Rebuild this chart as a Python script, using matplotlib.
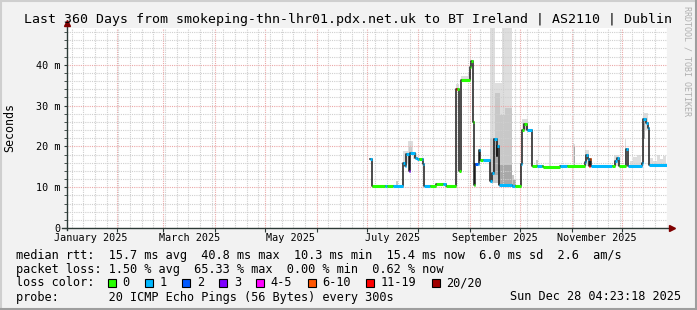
import matplotlib
matplotlib.use("Agg")
import matplotlib.pyplot as plt
import matplotlib.dates as mdates
from matplotlib.ticker import MultipleLocator, NullFormatter
from matplotlib.lines import Line2D
from matplotlib.patches import Rectangle
import pandas as pd

W, H = 697, 310
MONO = "DejaVu Sans Mono"

t_start = pd.Timestamp("2025-01-02 04:23:18")
t_end = pd.Timestamp("2025-12-28 04:23:18")
day0 = pd.Timestamp("2025-07-01")  # data days below are counted from here

# median rtt as steps: day the value starts, value in ms (last entry = end)
med_day = [2.0, 3.0, 21.6, 23.0, 23.8, 25.2, 26.0, 29.0, 30.4, 33.6, 34.6, 41.6, 47.6,
           53.8, 55.2, 56.4, 62.0, 62.6, 64.0, 64.6, 65.0, 67.6, 68.0, 74.0, 75.2, 76.4,
           78.0, 78.4, 79.6, 87.0, 92.4, 93.4, 94.4, 96.0, 99.4, 106.0, 116.0, 131.0,
           131.6, 132.5, 133.2, 134.0, 134.6, 149.0, 150.0, 151.6, 155.4, 156.6, 165.0,
           165.6, 167.6, 169.0, 169.6, 180.2]
med_ms = [17.0, 10.4, 15.9, 15.1, 18.1, 13.9, 18.4, 17.1, 16.8, 15.6, 10.3, 10.9, 10.4,
          34.0, 13.9, 36.2, 39.5, 40.8, 25.9, 10.6, 15.8, 19.2, 16.6, 11.4, 13.5, 21.8,
          17.6, 20.2, 10.6, 10.4, 15.8, 24.1, 25.6, 24.1, 15.3, 15.0, 15.2, 16.2,
          18.0, 16.8, 15.3, 16.8, 15.2, 16.3, 17.2, 15.3, 19.4, 15.3, 16.0,
          26.7, 25.8, 24.4, 15.4, 15.4]

# loss colour class as steps
loss_day = [2.0, 3.0, 11.0, 12.4, 16.0, 25.2, 26.0, 31.4, 33.0, 38.0, 46.0, 47.6, 53.8,
            54.4, 65.0, 67.0, 68.0, 69.6, 89.0, 92.4, 93.4, 96.0, 99.4, 102.0, 105.0,
            116.0, 120.2, 131.0, 133.2, 134.0, 134.6, 147.0, 149.0, 151.6, 155.4]
loss_cls = [1, 0, 1, 0, 1, 3, 1, 0, 1, 0, 1, 0, 6,
            0, 2, 1, 0, 1, 0, 1, 0, 1, 0, 1, 0,
            1, 0, 1, 6, 5, 1, 0, 1, 0, 1]

# smoke blocks: start day, end day, low ms, high ms, shade
smoke_d0 = [17.6, 21.6, 24.6, 25.6, 28.0, 53.8, 56.4, 61.0,
            74.0, 77.0, 81.0, 74.0, 77.0, 80.0, 83.0, 87.0, 76.0, 79.0, 87.6,
            93.2, 94.0, 109.6, 101.8, 124.0, 124.1,
            130.7, 148.6, 154.8, 158.0, 159.8, 162.2, 165.6, 166.0, 170.0, 171.8, 174.2,
            176.0, 177.8]
smoke_d1 = [18.6, 24.6, 28.0, 27.4, 30.4, 55.2, 61.0, 62.0,
            77.0, 81.0, 87.0, 77.0, 80.0, 83.0, 87.0, 88.6, 79.0, 87.0, 89.6,
            96.8, 95.6, 110.3, 102.6, 125.0, 124.8,
            133.1, 151.2, 155.8, 159.8, 162.2, 164.6, 169.0, 167.0, 171.8, 174.2, 176.0,
            177.8, 179.6]
smoke_lo = [10.5, 15.9, 18.2, 18.2, 17.0, 33.6, 36.0, 36.0,
            11.0, 11.0, 10.5, 11.0, 11.0, 10.6, 10.6, 10.4, 13.0, 10.6, 10.4,
            24.0, 24.0, 15.3, 15.3, 15.3, 15.3,
            15.3, 15.3, 15.3, 15.3, 15.3, 15.3, 24.0, 21.7, 15.4, 15.4, 15.4,
            15.4, 15.4]
smoke_hi = [11.5, 18.8, 21.2, 19.8, 18.3, 35.2, 37.2, 38.0,
            60.0, 35.5, 60.0, 22.0, 33.0, 27.8, 29.5, 13.0, 22.0, 15.5, 11.8,
            26.8, 25.8, 25.2, 16.6, 20.6, 20.0,
            19.2, 17.8, 21.7, 16.5, 17.5, 18.0, 28.1, 26.5, 17.2, 16.4, 17.8,
            16.8, 17.6]
smoke_tone = [1, 0, 0, 1, 0, 0, 0, 0,
              0, 0, 0, 1, 1, 1, 1, 1, 2, 2, 2,
              0, 1, 0, 1, 0, 2,
              0, 0, 0, 0, 0, 0, 0, 2, 0, 0, 0,
              0, 0]

loss_colors = ["#26ff00", "#00b8ff", "#0059ff", "#7e00ff", "#ff00ff", "#ff5500", "#ff0000", "#a10000"]
loss_labels = ["0", "1", "2", "3", "4-5", "6-10", "11-19", "20/20"]
tones = ["#dedede", "#c8c8c8", "#a8a8a8"]

y_ticks = [0, 10, 20, 30, 40]
y_ticklabels = ["0", "10 m", "20 m", "30 m", "40 m"]
label_months = [1, 3, 5, 7, 9, 11]

rtt_stats = [15.7, 40.8, 10.3, 15.4, 6.0, 2.6]
loss_stats = [1.50, 65.33, 0.00, 0.62]

title = "Last 360 Days from smokeping-thn-lhr01.pdx.net.uk to BT Ireland | AS2110 | Dublin"

axis_c = "#2c3a36"
arrow_c = "#7f0000"

fig = plt.figure(figsize=(W / 100, H / 100), dpi=100, facecolor="#f2f2f2")
ax = fig.add_axes([67 / W, 1 - 228 / H, 600 / W, 200 / H], facecolor="white")
x0 = mdates.date2num(day0)

# smoke, lightest first
for d0, d1, lo, hi, tn in sorted(zip(smoke_d0, smoke_d1, smoke_lo, smoke_hi, smoke_tone),
                                 key=lambda r: r[4]):
    ax.fill_between([x0 + d0, x0 + d1], lo, hi, color=tones[tn], lw=0, zorder=1)

# median line (black) then loss coloured plateaus
xs = [x0 + d for d in med_day]
ax.plot(xs, med_ms, drawstyle="steps-post", color="#1a1a1a", lw=1.1, zorder=2)

bounds = sorted(set(med_day) | set(loss_day))
for a, b in zip(bounds[:-1], bounds[1:]):
    if a < med_day[0] or a >= med_day[-1]:
        continue
    v = [m for d, m in zip(med_day, med_ms) if d <= a][-1]
    c = [k for d, k in zip(loss_day, loss_cls) if d <= a][-1]
    ax.hlines(v, x0 + a, x0 + b, colors=loss_colors[c], lw=2.2, zorder=3)

ax.set_xlim(mdates.date2num(t_start), mdates.date2num(t_end))
ax.set_ylim(0, 49)

ax.xaxis.set_major_locator(mdates.MonthLocator())
ax.xaxis.set_minor_locator(mdates.WeekdayLocator(byweekday=mdates.SU))
ax.xaxis.set_major_formatter(NullFormatter())
ax.set_yticks(y_ticks, y_ticklabels)
ax.yaxis.set_minor_locator(MultipleLocator(2))
ax.set_axisbelow("line")
ax.grid(which="minor", color="#cfcfcf", ls=(0, (1, 1)), lw=0.8)
ax.grid(which="major", color="#eba8a8", ls=(0, (1, 1)), lw=0.8)
ax.tick_params(axis="x", which="major", direction="out", length=3, color=axis_c)
ax.tick_params(axis="x", which="minor", length=0)
ax.tick_params(axis="y", which="both", direction="out", length=2, color=axis_c, pad=3,
               labelsize=7.3, labelfontfamily=MONO)
for s in ax.spines.values():
    s.set_visible(False)

# month labels centred in the month
for m in label_months:
    ms = pd.Timestamp(2025, m, 1)
    mid = ms + (ms + pd.offsets.MonthBegin(1) - ms) / 2
    ax.text(mdates.date2num(mid), -0.05, ms.strftime("%B %Y"), transform=ax.get_xaxis_transform(),
            ha="center", va="center", fontsize=7.3, family=MONO)

# axes with arrows
ax.plot([-5 / 600, 1 + 3 / 600], [0, 0], transform=ax.transAxes, color=axis_c, lw=1,
        clip_on=False, zorder=4)
ax.plot([0, 0], [-2 / 200, 1 + 4 / 200], transform=ax.transAxes, color=axis_c, lw=1,
        clip_on=False, zorder=4)
ax.plot([1 + 5 / 600], [0], transform=ax.transAxes, marker=">", ms=4.5, color=arrow_c,
        clip_on=False, zorder=5)
ax.plot([0], [1 + 5 / 200], transform=ax.transAxes, marker="^", ms=4.5, color=arrow_c,
        clip_on=False, zorder=5)

fig.text(0.5, 1 - 19 / H, title, ha="center", va="center", fontsize=9.5, family=MONO)
fig.text(10 / W, 1 - 128 / H, "Seconds", rotation=90, ha="center", va="center",
         fontsize=8.4, family=MONO)
fig.text(687 / W, 1 - 61 / H, "RRDTOOL / TOBI OETIKER", rotation=270, ha="center",
         va="center", fontsize=6.0, family=MONO, color="#b0b0b0")

row1 = ("median rtt:  {:.1f} ms avg  {:.1f} ms max  {:.1f} ms min  {:.1f} ms now  "
        "{:.1f} ms sd  {:.1f}  am/s").format(*rtt_stats)
row2 = "packet loss: {:.2f} % avg  {:.2f} % max  {:.2f} % min  {:.2f} % now".format(*loss_stats)
lkw = dict(fontsize=8.6, family=MONO, va="center")
fig.text(16 / W, 1 - 255 / H, row1, **lkw)
fig.text(16 / W, 1 - 269 / H, row2, **lkw)
fig.text(16 / W, 1 - 283 / H, "loss color:", **lkw)
fig.text(16 / W, 1 - 297 / H, "probe:       20 ICMP Echo Pings (56 Bytes) every 300s", **lkw)
fig.text(681 / W, 1 - 297 / H, "Sun Dec 28 04:23:18 2025", ha="right", fontsize=8.6,
         family=MONO, va="center")

bx = 108
for col, lab in zip(loss_colors, loss_labels):
    fig.add_artist(Rectangle((bx / W, 1 - 287 / H), 8 / W, 8 / H, transform=fig.transFigure,
                             facecolor=col, edgecolor="black", lw=0.8))
    fig.text((bx + 14.5) / W, 1 - 283 / H, lab, **lkw)
    bx += 37.1 + (len(lab) - 1) * 7.15

# 3d frame around the image
fig.add_artist(Line2D([0, 1], [1 - 0.5 / H, 1 - 0.5 / H], color="#cfcfcf", lw=1.5))
fig.add_artist(Line2D([0.5 / W, 0.5 / W], [0, 1], color="#cfcfcf", lw=1.5))
fig.add_artist(Line2D([0, 1], [1.0 / H, 1.0 / H], color="#9e9e9e", lw=1.5))
fig.add_artist(Line2D([1 - 1.0 / W, 1 - 1.0 / W], [0, 1], color="#9e9e9e", lw=1.5))

fig.savefig("out.png", dpi=100, facecolor=fig.get_facecolor())
